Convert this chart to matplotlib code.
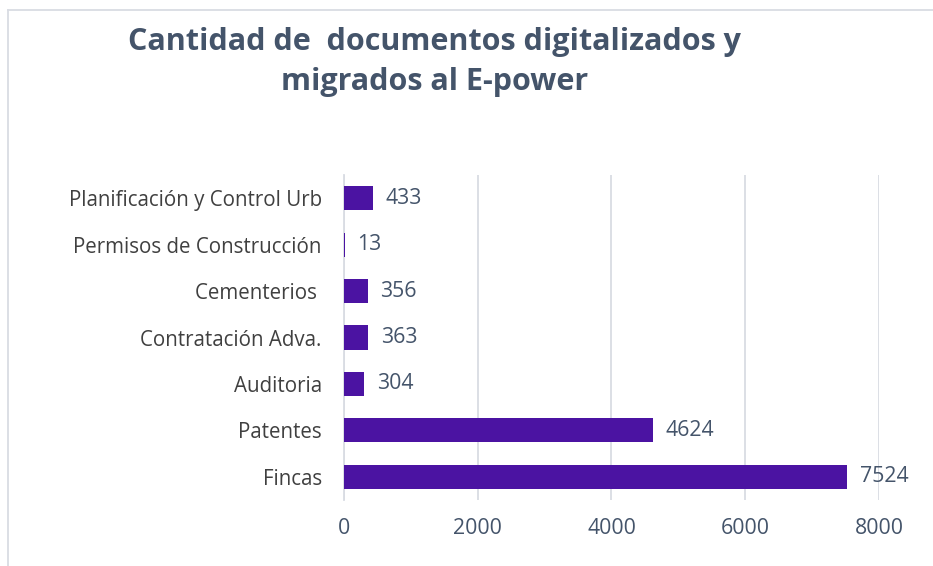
import matplotlib.pyplot as plt
import numpy as np

categories = ['Fincas', 'Patentes', 'Auditoria', 'Contratación Adva.',
              'Cementerios ', 'Permisos de Construcción', 'Planificación y Control Urb']
values = [7524, 4624, 304, 363, 356, 13, 433]
xticks = [0, 2000, 4000, 6000, 8000]

bar_color = '#4B13A2'
text_color = '#44546A'
label_color = '#404040'

plt.rcParams['font.family'] = ['Open Sans', 'DejaVu Sans']

fig = plt.figure(figsize=(9.33, 5.66), dpi=100)
ax = fig.add_axes([0.3687, 0.1166, 0.5734, 0.5742])

y = np.arange(len(categories))
bars = ax.barh(y, values, height=0.52, color=bar_color, zorder=3)
ax.bar_label(bars, labels=[str(v) for v in values], padding=9,
             fontsize=15.3, color=text_color)

ax.set_xlim(0, 8000)
ax.set_ylim(-0.5, len(categories) - 0.5)
ax.set_xticks(xticks)
ax.set_xticklabels([str(t) for t in xticks], fontsize=15.3, color=text_color)
ax.set_yticks(y)
ax.set_yticklabels(categories, fontsize=14.8, color=label_color)
ax.tick_params(axis='both', length=0)
ax.tick_params(axis='x', pad=13)
ax.tick_params(axis='y', pad=16)
ax.grid(axis='x', color='#D9DCE3', linewidth=1.3, zorder=0)
for s in ['top', 'right', 'bottom']:
    ax.spines[s].set_visible(False)
ax.spines['left'].set_color('#D9DCE3')
ax.spines['left'].set_linewidth(1.3)

fig.text(0.466, 0.890, 'Cantidad de  documentos digitalizados y\nmigrados al E-power',
         ha='center', va='center', fontsize=22, fontweight='bold',
         color=text_color, linespacing=1.45)

# outer frame (only top and left edges visible)
fig.add_artist(plt.Line2D([8 / 933, 1], [1 - 10 / 566, 1 - 10 / 566],
                          color='#D9DCE3', linewidth=1.3))
fig.add_artist(plt.Line2D([8 / 933, 8 / 933], [0, 1 - 10 / 566],
                          color='#D9DCE3', linewidth=1.3))

fig.savefig('out.png', dpi=100)
